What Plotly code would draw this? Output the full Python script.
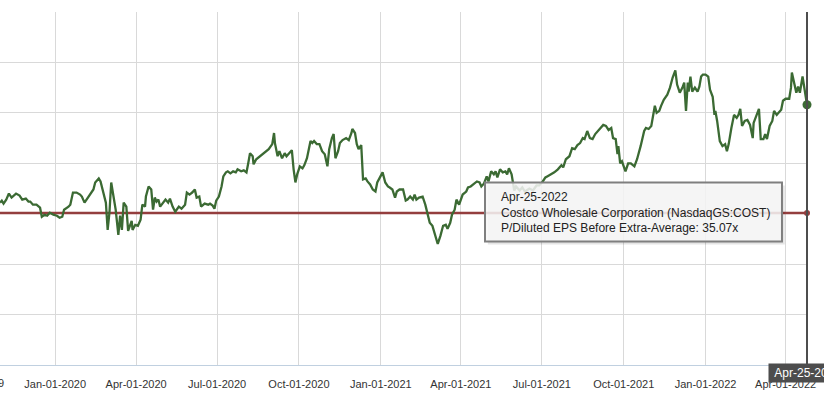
import plotly.graph_objects as go

# ---- data ----
dates = [
    "2019-10-31",
    "2019-11-02", "2019-11-04", "2019-11-07", "2019-11-10", "2019-11-13", "2019-11-18", "2019-11-22", "2019-11-25", "2019-11-29",
    "2019-12-02", "2019-12-04", "2019-12-07", "2019-12-11", "2019-12-15", "2019-12-17", "2019-12-20", "2019-12-23", "2019-12-26", "2019-12-30",
    "2020-01-03", "2020-01-06", "2020-01-09", "2020-01-11", "2020-01-16", "2020-01-18", "2020-01-21", "2020-01-25", "2020-01-29", "2020-01-31",
    "2020-02-03", "2020-02-07", "2020-02-10", "2020-02-13", "2020-02-15", "2020-02-19", "2020-02-21", "2020-02-24", "2020-02-27", "2020-02-29",
    "2020-03-02", "2020-03-04", "2020-03-07", "2020-03-09", "2020-03-12", "2020-03-14", "2020-03-16", "2020-03-18", "2020-03-21", "2020-03-23", "2020-03-27", "2020-03-28", "2020-03-31",
    "2020-04-03", "2020-04-06", "2020-04-08", "2020-04-11", "2020-04-12", "2020-04-15", "2020-04-18", "2020-04-20", "2020-04-22", "2020-04-24", "2020-04-26", "2020-04-28",
    "2020-05-01", "2020-05-04", "2020-05-07", "2020-05-09", "2020-05-12", "2020-05-15", "2020-05-19", "2020-05-22", "2020-05-26", "2020-05-28", "2020-05-31",
    "2020-06-03", "2020-06-06", "2020-06-08", "2020-06-11", "2020-06-13", "2020-06-17", "2020-06-21", "2020-06-23", "2020-06-26", "2020-06-28", "2020-06-30",
    "2020-07-03", "2020-07-06", "2020-07-08", "2020-07-11", "2020-07-13", "2020-07-16", "2020-07-19", "2020-07-22", "2020-07-24", "2020-07-28", "2020-07-31",
    "2020-08-03", "2020-08-05", "2020-08-07", "2020-08-10", "2020-08-11", "2020-08-14", "2020-08-18", "2020-08-21", "2020-08-25", "2020-08-28",
    "2020-09-01", "2020-09-03", "2020-09-04", "2020-09-07", "2020-09-09", "2020-09-12", "2020-09-15", "2020-09-17", "2020-09-20", "2020-09-23", "2020-09-25", "2020-09-27", "2020-09-29",
    "2020-10-02", "2020-10-05", "2020-10-07", "2020-10-10", "2020-10-14", "2020-10-16", "2020-10-18", "2020-10-21", "2020-10-24", "2020-10-27", "2020-10-30",
    "2020-11-02", "2020-11-04", "2020-11-07", "2020-11-09", "2020-11-11", "2020-11-14", "2020-11-16", "2020-11-19", "2020-11-23", "2020-11-26", "2020-11-29", "2020-11-30",
    "2020-12-03", "2020-12-05", "2020-12-07", "2020-12-10", "2020-12-12", "2020-12-15", "2020-12-17", "2020-12-20", "2020-12-23", "2020-12-26", "2020-12-28", "2020-12-31",
    "2021-01-03", "2021-01-06", "2021-01-09", "2021-01-11", "2021-01-14", "2021-01-17", "2021-01-19", "2021-01-22", "2021-01-26", "2021-01-29", "2021-01-31",
    "2021-02-03", "2021-02-06", "2021-02-08", "2021-02-10", "2021-02-13", "2021-02-17", "2021-02-20", "2021-02-23", "2021-02-25", "2021-02-28",
    "2021-03-03", "2021-03-06", "2021-03-09", "2021-03-12", "2021-03-15", "2021-03-17", "2021-03-20", "2021-03-22", "2021-03-25", "2021-03-27", "2021-03-30",
    "2021-04-03", "2021-04-07", "2021-04-09", "2021-04-12", "2021-04-15", "2021-04-19", "2021-04-22", "2021-04-24", "2021-04-27", "2021-04-30",
    "2021-05-02", "2021-05-05", "2021-05-08", "2021-05-10", "2021-05-12", "2021-05-15", "2021-05-18", "2021-05-21", "2021-05-23", "2021-05-25", "2021-05-28", "2021-05-31",
    "2021-06-02", "2021-06-06", "2021-06-09", "2021-06-12", "2021-06-17", "2021-06-21", "2021-06-25", "2021-06-28",
    "2021-07-02", "2021-07-05", "2021-07-07", "2021-07-11", "2021-07-15", "2021-07-19", "2021-07-23", "2021-07-25", "2021-07-28",
    "2021-08-01", "2021-08-04", "2021-08-07", "2021-08-10", "2021-08-13", "2021-08-16", "2021-08-18", "2021-08-21", "2021-08-24", "2021-08-27", "2021-08-30",
    "2021-09-02", "2021-09-05", "2021-09-08", "2021-09-11", "2021-09-14", "2021-09-17", "2021-09-19", "2021-09-22", "2021-09-24", "2021-09-25", "2021-09-27", "2021-09-29",
    "2021-10-03", "2021-10-06", "2021-10-09", "2021-10-13", "2021-10-16", "2021-10-20", "2021-10-24", "2021-10-26", "2021-10-29",
    "2021-11-01", "2021-11-03", "2021-11-05", "2021-11-07", "2021-11-10", "2021-11-12", "2021-11-15", "2021-11-19", "2021-11-22", "2021-11-25", "2021-11-26", "2021-11-28", "2021-11-30",
    "2021-12-03", "2021-12-06", "2021-12-08", "2021-12-10", "2021-12-12", "2021-12-13", "2021-12-15", "2021-12-17", "2021-12-20", "2021-12-23", "2021-12-25", "2021-12-27", "2021-12-29",
    "2022-01-01", "2022-01-04", "2022-01-06", "2022-01-09", "2022-01-11", "2022-01-12", "2022-01-14", "2022-01-17", "2022-01-20", "2022-01-23", "2022-01-25", "2022-01-27", "2022-01-30",
    "2022-02-02", "2022-02-05", "2022-02-07", "2022-02-09", "2022-02-11", "2022-02-14", "2022-02-17", "2022-02-20", "2022-02-23", "2022-02-24", "2022-02-27",
    "2022-03-02", "2022-03-04", "2022-03-07", "2022-03-09", "2022-03-11", "2022-03-14", "2022-03-17", "2022-03-19", "2022-03-22", "2022-03-24", "2022-03-27", "2022-03-29",
    "2022-04-01", "2022-04-05", "2022-04-07", "2022-04-08", "2022-04-11", "2022-04-13", "2022-04-15", "2022-04-17", "2022-04-20", "2022-04-22", "2022-04-25",
]

pe_ratio = [
    36.1,
    36.3, 36.0, 36.4, 37.0, 36.6, 37.0, 36.8, 36.4, 36.5,
    36.2, 36.2, 35.9, 35.9, 35.6, 34.7, 34.9, 34.8, 35.1, 34.9,
    34.8, 34.6, 34.7, 35.4, 35.7, 35.9, 37.1, 37.1, 36.9, 36.7,
    36.1, 36.6, 37.1, 37.4, 38.1, 38.5, 38.2, 37.1, 36.1, 33.4,
    35.1, 38.1, 36.4, 35.4, 32.9, 34.8, 33.4, 36.1, 35.7, 33.3, 34.3, 33.4, 33.9,
    33.8, 34.4, 35.9, 35.7, 36.7, 37.7, 37.4, 35.4, 36.6, 36.2, 36.4, 35.7,
    36.1, 36.4, 36.1, 36.5, 35.7, 35.2, 35.7, 35.5, 35.9, 37.1, 36.9,
    37.1, 37.4, 36.6, 36.7, 35.7, 36.0, 35.9, 36.0, 35.8, 35.5, 36.3,
    36.7, 37.7, 38.7, 39.1, 39.2, 39.0, 39.2, 39.1, 39.4, 39.2, 39.3,
    39.1, 40.0, 41.0, 40.7, 39.9, 40.4, 40.7, 40.9, 41.2, 41.4,
    41.9, 43.0, 42.0, 40.7, 41.2, 40.5, 41.0, 40.7, 41.0, 41.3, 39.4, 38.1, 38.9,
    39.7, 39.5, 39.8, 40.5, 42.2, 42.0, 42.2, 41.9, 41.9, 41.2, 40.9,
    39.7, 41.4, 42.5, 42.9, 40.5, 41.2, 42.0, 42.3, 42.5, 42.3, 43.0, 43.4,
    43.0, 41.9, 41.4, 41.8, 38.4, 38.5, 38.2, 37.9, 37.4, 37.2, 38.1, 38.6,
    39.1, 38.1, 37.7, 37.6, 37.4, 36.6, 37.2, 37.4, 37.4, 36.3, 36.4,
    36.7, 36.4, 36.9, 36.4, 36.6, 36.7, 35.9, 34.8, 34.1, 33.8,
    32.8, 32.0, 32.8, 33.8, 33.9, 33.5, 34.1, 34.9, 35.4, 36.4, 35.9,
    36.9, 37.2, 37.6, 37.7, 37.9, 38.2, 38.1, 37.7, 38.0, 38.7,
    38.2, 39.2, 38.9, 39.2, 38.6, 39.4, 39.1, 39.2, 38.9, 39.5, 38.9, 37.3,
    37.7, 37.3, 37.6, 37.2, 37.5, 37.3, 37.8, 37.8,
    38.2, 38.6, 38.7, 38.9, 39.1, 39.4, 39.8, 39.6, 40.4,
    40.7, 41.5, 41.4, 41.8, 42.0, 42.5, 42.4, 43.2, 42.5, 42.4, 42.9,
    43.2, 43.4, 43.8, 43.7, 43.3, 43.5, 42.5, 42.4, 40.9, 41.7, 40.0, 40.2,
    39.2, 40.0, 40.0, 39.7, 40.4, 41.7, 43.2, 43.5, 43.4,
    43.7, 44.7, 45.7, 45.0, 45.2, 45.7, 46.3, 46.8, 47.5, 48.5, 48.8, 49.2, 47.8,
    47.0, 47.5, 48.0, 45.2, 48.0, 47.1, 48.6, 47.1, 47.5, 47.1, 47.6, 48.6, 48.8,
    48.8, 48.6, 47.3, 46.6, 44.8, 45.2, 44.2, 42.2, 41.7, 41.9, 41.2, 41.9, 43.5,
    44.8, 44.5, 44.8, 45.4, 43.7, 44.2, 44.3, 43.8, 42.5, 44.0, 44.8,
    45.4, 42.4, 42.4, 42.9, 42.4, 43.7, 44.2, 45.2, 44.8, 45.0, 45.3, 46.2,
    46.4, 46.4, 47.5, 49.0, 47.6, 47.0, 47.6, 47.0, 48.6, 47.3, 45.8,
]

average_pe = 35.07

tick_dates = ["2020-01-01", "2020-04-01", "2020-07-01", "2020-10-01", "2021-01-01", "2021-04-01",
              "2021-07-01", "2021-10-01", "2022-01-01", "2022-04-01"]
tick_labels = ["Jan-01-2020", "Apr-01-2020", "Jul-01-2020", "Oct-01-2020", "Jan-01-2021", "Apr-01-2021",
               "Jul-01-2021", "Oct-01-2021", "Jan-01-2022", "Apr-01-2022"]

company = "Costco Wholesale Corporation (NasdaqGS:COST)"
metric = "P/Diluted EPS Before Extra-Average"
hover_label = "Apr-25-2022"
prev_tick_label = "Oct-01-2019"

assert len(dates) == len(pe_ratio)

FONT = "Liberation Sans, Arial, sans-serif"
GREEN = "#3b6a33"
RED = "#943e3e"

fig = go.Figure()

fig.add_trace(go.Scatter(
    x=[dates[0], dates[-1]], y=[average_pe, average_pe], mode="lines",
    line=dict(color=RED, width=2.5), hoverinfo="skip"))

fig.add_trace(go.Scatter(
    x=dates, y=pe_ratio, mode="lines",
    line=dict(color=GREEN, width=2.3), hoverinfo="skip"))

fig.add_trace(go.Scatter(
    x=[dates[-1]], y=[pe_ratio[-1]], mode="markers", cliponaxis=False,
    marker=dict(color=GREEN, size=9), hoverinfo="skip"))
fig.add_trace(go.Scatter(
    x=[dates[-1]], y=[average_pe], mode="markers", cliponaxis=False,
    marker=dict(color=RED, size=6), hoverinfo="skip"))

# crosshair
fig.add_shape(type="line", xref="paper", yref="paper", x0=1, x1=1, y0=0, y1=1,
              line=dict(color="#4d4d4d", width=2), layer="above")

# tooltip shadow + box
fig.add_shape(type="rect", xref="paper", yref="paper", x0=0.6045, x1=0.9725, y0=0.3415, y1=0.5085,
              fillcolor="rgba(0,0,0,0.10)", line=dict(width=0), layer="above")
fig.add_shape(type="rect", xref="paper", yref="paper", x0=0.6010, x1=0.9690, y0=0.3499, y1=0.5170,
              fillcolor="rgba(247,247,247,0.86)", line=dict(color="#7f7f7f", width=2), layer="above")

fig.add_annotation(
    xref="paper", yref="paper", x=0.6183, y=0.4334, xanchor="left", yanchor="middle",
    align="left", showarrow=False,
    text=f"{hover_label}<br>{company}<br>{metric}: {average_pe:.2f}x",
    font=dict(family=FONT, size=12, color="#222222"))

# crosshair date label on x axis
fig.add_annotation(
    xref="paper", yref="paper", x=1, y=0, xanchor="center", yanchor="top", yshift=2,
    showarrow=False, text=f"&nbsp;{hover_label}&nbsp;", bgcolor="#4d4d4d", borderpad=2,
    font=dict(family=FONT, size=12, color="#ffffff"))

# partially visible previous tick label
fig.add_annotation(
    xref="paper", yref="paper", x=-0.0331, y=-0.0504, xanchor="center", yanchor="middle",
    showarrow=False, text=prev_tick_label,
    font=dict(family=FONT, size=11, color="#333333"))

fig.update_layout(
    width=824, height=401,
    margin=dict(l=0, r=17, t=12, b=36, pad=0),
    paper_bgcolor="white", plot_bgcolor="white",
    showlegend=False, hovermode=False,
    xaxis=dict(
        type="date", range=[dates[0], dates[-1]],
        tickmode="array", tickvals=tick_dates, ticktext=tick_labels,
        showgrid=True, gridcolor="#d9d9d9", gridwidth=1,
        showline=True, linecolor="#c0d0e0", linewidth=1,
        ticks="", ticklabelstandoff=9,
        tickfont=dict(family=FONT, size=11, color="#333333"),
        zeroline=False, fixedrange=True),
    yaxis=dict(
        range=[20, 55], tick0=20, dtick=5, showticklabels=False,
        showgrid=True, gridcolor="#d9d9d9", gridwidth=1,
        zeroline=False, showline=False, fixedrange=True),
)

fig.write_html(
    "out.html",
    config={"displayModeBar": False, "responsive": False},
    post_script="document.body.style.margin='0';document.body.style.overflow='hidden';",
)
